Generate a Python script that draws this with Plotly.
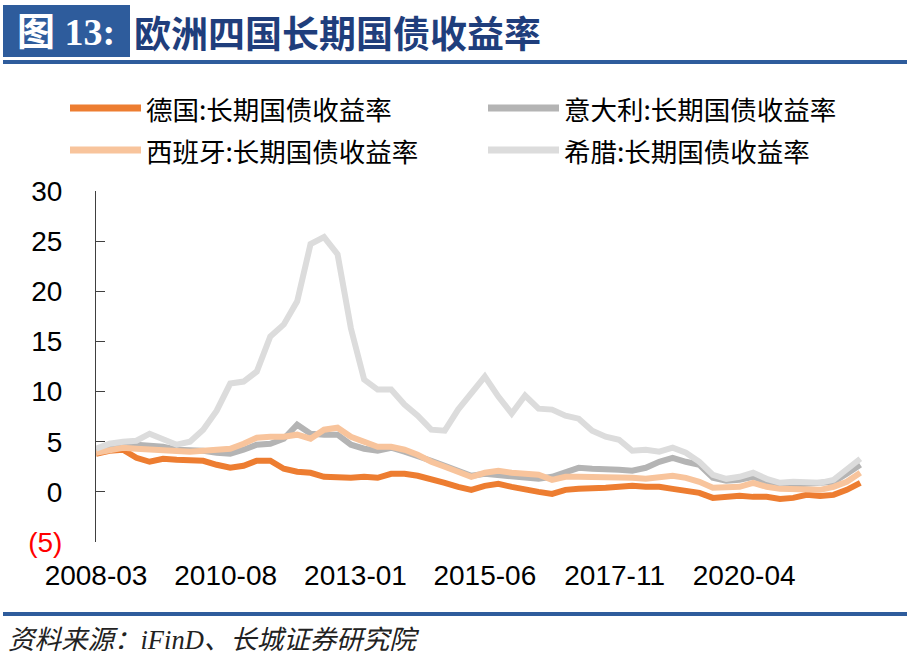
import plotly.graph_objects as go
import pandas as pd

# ---- data (quarterly) ----
dates = pd.date_range('2008-03-01', periods=58, freq='3MS')

germany = [3.8, 4.1, 4.2, 3.4, 3.0, 3.3, 3.2, 3.2, 3.1, 2.7,
           2.4, 2.6, 3.1, 3.1, 2.3, 2.0, 1.9, 1.5, 1.4, 1.4,
           1.5, 1.4, 1.8, 1.8, 1.6, 1.3, 0.9, 0.5, 0.2, 0.6,
           0.8, 0.5, 0.2, 0.0, -0.2, 0.2, 0.3, 0.3, 0.4, 0.5,
           0.6, 0.5, 0.5, 0.3, 0.1, -0.1, -0.6, -0.5, -0.4, -0.5,
           -0.5, -0.7, -0.6, -0.3, -0.4, -0.3, 0.2, 0.9]
italy = [4.2, 4.5, 4.7, 4.7, 4.6, 4.5, 4.2, 4.2, 4.1, 3.9,
         3.8, 4.2, 4.7, 4.8, 5.3, 6.7, 5.8, 5.7, 5.7, 4.7,
         4.3, 4.1, 4.4, 4.0, 3.6, 3.1, 2.6, 2.1, 1.6, 1.8,
         1.7, 1.5, 1.4, 1.3, 1.5, 2.0, 2.4, 2.3, 2.3, 2.2,
         2.1, 2.4, 3.0, 3.4, 3.0, 2.7, 1.4, 1.1, 1.2, 1.5,
         1.0, 0.6, 0.7, 0.8, 0.8, 1.0, 1.8, 2.7]
spain = [3.9, 4.2, 4.4, 4.3, 4.2, 4.2, 4.0, 4.0, 4.1, 4.2,
         4.3, 4.8, 5.4, 5.5, 5.5, 5.7, 5.3, 6.2, 6.4, 5.5,
         5.0, 4.5, 4.5, 4.2, 3.7, 3.0, 2.5, 2.0, 1.5, 1.9,
         2.1, 1.9, 1.8, 1.7, 1.2, 1.5, 1.5, 1.5, 1.5, 1.5,
         1.4, 1.3, 1.4, 1.6, 1.4, 1.0, 0.4, 0.5, 0.5, 0.9,
         0.5, 0.3, 0.3, 0.3, 0.2, 0.5, 1.0, 1.9]
greece = [4.3, 4.8, 5.0, 5.1, 5.8, 5.3, 4.7, 5.0, 6.2, 8.1,
          10.8, 11.0, 12.0, 15.5, 16.7, 19.0, 24.7, 25.4, 23.7, 16.3,
          11.2, 10.2, 10.2, 8.7, 7.6, 6.2, 6.1, 8.2, 9.9, 11.5,
          9.5, 7.8, 9.6, 8.3, 8.2, 7.6, 7.3, 6.1, 5.5, 5.2,
          4.1, 4.2, 4.0, 4.4, 3.9, 3.0, 1.7, 1.3, 1.5, 1.9,
          1.3, 0.9, 1.0, 1.0, 0.9, 1.2, 2.2, 3.3]

names = ['德国:长期国债收益率', '意大利:长期国债收益率', '西班牙:长期国债收益率', '希腊:长期国债收益率']
series = [germany, italy, spain, greece]
colors = ['#ED7D31', '#B4B4B4', '#F8C49C', '#DCDCDC']

tick_dates = ['2008-03-01', '2010-08-01', '2013-01-01', '2015-06-01', '2017-11-01', '2020-04-01']
tick_labels = ['2008-03', '2010-08', '2013-01', '2015-06', '2017-11', '2020-04']
y_ticks = [-5, 0, 5, 10, 15, 20, 25, 30]
y_labels = ['<span style="color:#FF0000">(5)</span>', '0', '5', '10', '15', '20', '25', '30']

title_tag = '图 13:'
title_text = '欧洲四国长期国债收益率'
source_text = '资料来源：iFinD、长城证券研究院'

# ---- layout geometry (pixels) ----
W, H = 910, 663
L, R, T, B = 96, 865, 191, 542
x_range = ['2008-03-01', '2022-07-03']
blue = '#2E5C9C'
sans = 'Liberation Sans, Arial, Noto Sans CJK SC'
cjk = 'Noto Sans CJK SC, Liberation Sans'


def px(x):
    return (x - L) / (R - L)


def py(y):
    return (B - y) / (B - T)


fig = go.Figure()
for name, vals, col in zip(names, series, colors):
    fig.add_trace(go.Scatter(x=dates, y=vals, name=name, mode='lines',
                             line=dict(color=col, width=6), showlegend=False,
                             hoverinfo='skip'))

shapes = [
    dict(type='rect', xref='paper', yref='paper', x0=px(3), x1=px(130), y0=py(57), y1=py(5),
         fillcolor=blue, line=dict(width=0), layer='above'),
    dict(type='rect', xref='paper', yref='paper', x0=px(3), x1=px(907), y0=py(64), y1=py(60),
         fillcolor=blue, line=dict(width=0)),
    dict(type='rect', xref='paper', yref='paper', x0=px(3), x1=px(907), y0=py(616), y1=py(612),
         fillcolor=blue, line=dict(width=0)),
]
annotations = [
    dict(text=title_tag, xref='paper', yref='paper', x=px(66), y=py(32), xanchor='center',
         yanchor='middle', showarrow=False,
         font=dict(family='Liberation Serif, Noto Sans CJK SC', size=38, color='white', weight='bold')),
    dict(text=title_text, xref='paper', yref='paper', x=px(132), y=py(32), xanchor='left',
         yanchor='middle', showarrow=False,
         font=dict(family=cjk, size=37, color='#1F3E7C', weight='bold')),
    dict(text=source_text, xref='paper', yref='paper', x=px(6), y=py(640), xanchor='left',
         yanchor='middle', showarrow=False,
         font=dict(family='Liberation Serif, Noto Sans CJK SC', size=26.5, color='#222222', style='italic')),
]
# manual legend (2 x 2)
leg_pos = [(70, 108), (488, 108), (70, 150), (488, 150)]
for (lx, ly), name, col in zip(leg_pos, names, colors):
    shapes.append(dict(type='line', xref='paper', yref='paper', x0=px(lx), x1=px(lx + 71),
                       y0=py(ly), y1=py(ly), line=dict(color=col, width=7)))
    annotations.append(dict(text=name, xref='paper', yref='paper', x=px(lx + 74), y=py(ly),
                            xanchor='left', yanchor='middle', showarrow=False,
                            font=dict(family=cjk, size=26.5, color='black')))

fig.update_layout(
    width=W, height=H,
    margin=dict(l=L, r=W - R, t=T, b=H - B, pad=0),
    paper_bgcolor='white', plot_bgcolor='white',
    showlegend=False,
    shapes=shapes, annotations=annotations,
    xaxis=dict(type='date', range=x_range, tickvals=tick_dates, ticktext=tick_labels,
               showline=False, ticks='', showgrid=False, zeroline=False,
               tickfont=dict(family=sans, size=28, color='black'), ticklabelstandoff=14),
    xaxis2=dict(type='date', range=x_range, overlaying='x', anchor='free', position=5 / 35,
                tickvals=tick_dates, showticklabels=False, ticks='inside', ticklen=9,
                tickcolor='black', showline=True, linecolor='black', linewidth=1,
                showgrid=False, zeroline=False),
    yaxis=dict(range=[-5, 30], tickvals=y_ticks, ticktext=y_labels, showline=True,
               linecolor='#404040', linewidth=1, ticks='inside', ticklen=9, tickcolor='#404040',
               showgrid=False, zeroline=False, ticklabelstandoff=27,
               tickfont=dict(family=sans, size=28, color='black')),
)

fig.write_html('out.html', config={'displayModeBar': False},
               post_script="document.body.style.margin='0';document.body.style.padding='0';")
